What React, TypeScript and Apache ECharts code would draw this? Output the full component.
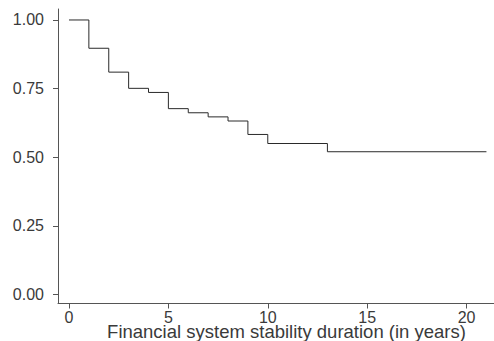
import React, { useEffect, useRef } from "react";
import * as echarts from "echarts";

const times = [0, 1, 2, 3, 4, 5, 6, 7, 8, 9, 10, 13, 21];
const survival = [1.0, 0.897, 0.81, 0.751, 0.736, 0.677, 0.662, 0.647, 0.632, 0.583, 0.55, 0.52, 0.52];
const xTicks = [0, 5, 10, 15, 20];
const yTicks = [0, 0.25, 0.5, 0.75, 1.0];
const xTitle = "Financial system stability duration (in years)";

const FONT = "'Liberation Sans', Arial, Helvetica, sans-serif";

export default function App() {
  const ref = useRef<HTMLDivElement>(null);
  useEffect(() => {
    document.body.style.margin = "0";
    const chart = echarts.init(ref.current!, null, { renderer: "svg" });
    chart.setOption({
      animation: false,
      backgroundColor: "#ffffff",
      grid: {
        left: 58,
        top: 9,
        width: 436,
        height: 294.5,
        containLabel: false,
        outerBoundsMode: "none",
      },
      xAxis: {
        type: "value",
        min: -0.553,
        max: 21.38,
        splitLine: { show: false },
        axisLine: { show: true, onZero: false, lineStyle: { color: "#555", width: 1 } },
        axisTick: { show: true, length: 5, customValues: xTicks, lineStyle: { color: "#555" } },
        axisLabel: {
          customValues: xTicks,
          margin: 6,
          fontSize: 16,
          color: "#3a3a3a",
          fontFamily: FONT,
        },
        name: xTitle,
        nameLocation: "middle",
        nameGap: 18,
        nameMoveOverlap: false,
        nameTextStyle: {
          fontSize: 18.5,
          color: "#3a3a3a",
          fontFamily: FONT,
          padding: [0, 0, 0, 21],
        },
      },
      yAxis: {
        type: "value",
        min: -0.0328,
        max: 1.04,
        splitLine: { show: false },
        axisLine: { show: true, onZero: false, lineStyle: { color: "#555", width: 1 } },
        axisTick: { show: true, length: 5, customValues: yTicks, lineStyle: { color: "#555" } },
        axisLabel: {
          customValues: yTicks,
          margin: 14,
          fontSize: 16,
          color: "#3a3a3a",
          fontFamily: FONT,
          formatter: (v: number) => v.toFixed(2),
        },
      },
      series: [
        {
          type: "line",
          step: "end",
          data: times.map((t, i) => [t, survival[i]]),
          symbol: "none",
          lineStyle: { color: "#2a2a2a", width: 1 },
        },
      ],
    });
    return () => chart.dispose();
  }, []);
  return (
    <div
      ref={ref}
      style={{ position: "fixed", left: 0, top: 0, width: 494, height: 341 }}
    />
  );
}
